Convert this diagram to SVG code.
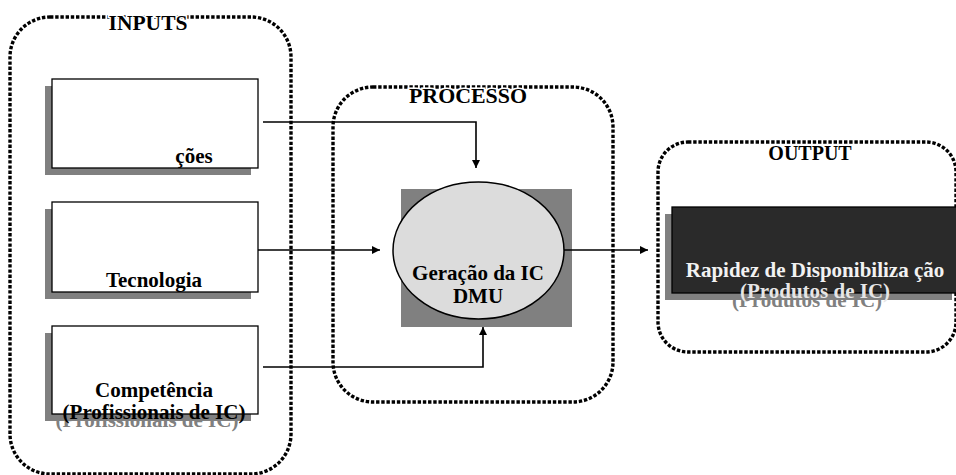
<svg xmlns="http://www.w3.org/2000/svg" width="956" height="475" viewBox="0 0 956 475">
  <style>
    .frame { fill: none; stroke: #000; stroke-width: 3.4; stroke-dasharray: 3.4 1.8; }
    .label { font-family: "Liberation Serif", "Times New Roman", serif; font-weight: bold; font-size: 20px; fill: #000; stroke: #fff; stroke-width: 3; paint-order: stroke; text-anchor: middle; }
    .txt { font-family: "Liberation Serif", "Times New Roman", serif; font-weight: bold; font-size: 21px; text-anchor: middle; }
    .shadow { fill: #808080; }
    .box { fill: #fff; stroke: #000; stroke-width: 1.3; }
    .conn { fill: none; stroke: #000; stroke-width: 1.6; }
  </style>
  <defs>
    <marker id="arrow" viewBox="0 0 10 10" refX="10" refY="5" markerWidth="5" markerHeight="5" markerUnits="strokeWidth" orient="auto">
      <path d="M0,0 L10,5 L0,10 z" fill="#000"/>
    </marker>
  </defs>

  <!-- dotted group frames -->
  <g id="inputs">
    <rect class="frame" x="10" y="17" width="281" height="457" rx="40" ry="40"/>
    <text class="label" x="148" y="30" textLength="79" lengthAdjust="spacingAndGlyphs">INPUTS</text>
  </g>
  <g id="processo">
    <rect class="frame" x="333" y="87" width="280" height="315" rx="40" ry="40"/>
    <text class="label" x="468" y="103" textLength="118" lengthAdjust="spacingAndGlyphs">PROCESSO</text>
  </g>
  <g id="output">
    <rect class="frame" x="658" y="142" width="298" height="210" rx="30" ry="30"/>
    <text class="label" x="810" y="160">OUTPUT</text>
  </g>

  <!-- input boxes -->
  <g id="input-1">
    <rect class="shadow" x="45" y="86" width="206" height="89"/>
    <rect class="box" x="52" y="79" width="206" height="89"/>
    <text class="txt" x="194" y="163">ções</text>
  </g>
  <g id="input-tecnologia">
    <rect class="shadow" x="45" y="209" width="206" height="90"/>
    <rect class="box" x="52" y="202" width="206" height="90"/>
    <text class="txt" x="154" y="287">Tecnologia</text>
  </g>
  <g id="input-competencia">
    <rect class="shadow" x="45" y="333" width="206" height="88"/>
    <text class="txt shadow" x="147" y="427">(Profissionais de IC)</text>
    <rect class="box" x="52" y="326" width="206" height="88"/>
    <text class="txt" x="154" y="397">Competência</text>
    <text class="txt" x="154" y="419">(Profissionais de IC)</text>
  </g>

  <!-- process node -->
  <g id="geracao">
    <rect class="shadow" x="401" y="189" width="171" height="138"/>
    <ellipse cx="478.5" cy="250.5" rx="85.5" ry="68.5" fill="#dcdcdc" stroke="#000" stroke-width="1.5"/>
    <text class="txt" x="478" y="280">Geração da IC</text>
    <text class="txt" x="478" y="303">DMU</text>
  </g>

  <!-- output node -->
  <g id="rapidez">
    <rect class="shadow" x="665" y="214" width="287" height="86"/>
    <text class="txt shadow" x="807" y="307">(Produtos de IC)</text>
    <rect x="672" y="207" width="290" height="86" fill="#2a2a2a" stroke="#000" stroke-width="1.3"/>
    <text class="txt" x="815" y="277" fill="#f2f2f2">Rapidez de Disponibiliza ção</text>
    <text class="txt" x="815" y="298" fill="#e6e6e6">(Produtos de IC)</text>
  </g>

  <!-- connectors -->
  <g id="connectors">
    <path class="conn" d="M263,122 H476 V168" marker-end="url(#arrow)"/>
    <path class="conn" d="M258,250 H380" marker-end="url(#arrow)"/>
    <path class="conn" d="M263,367 H483 V327" marker-end="url(#arrow)"/>
    <path class="conn" d="M564,250 H648" marker-end="url(#arrow)"/>
  </g>
</svg>
